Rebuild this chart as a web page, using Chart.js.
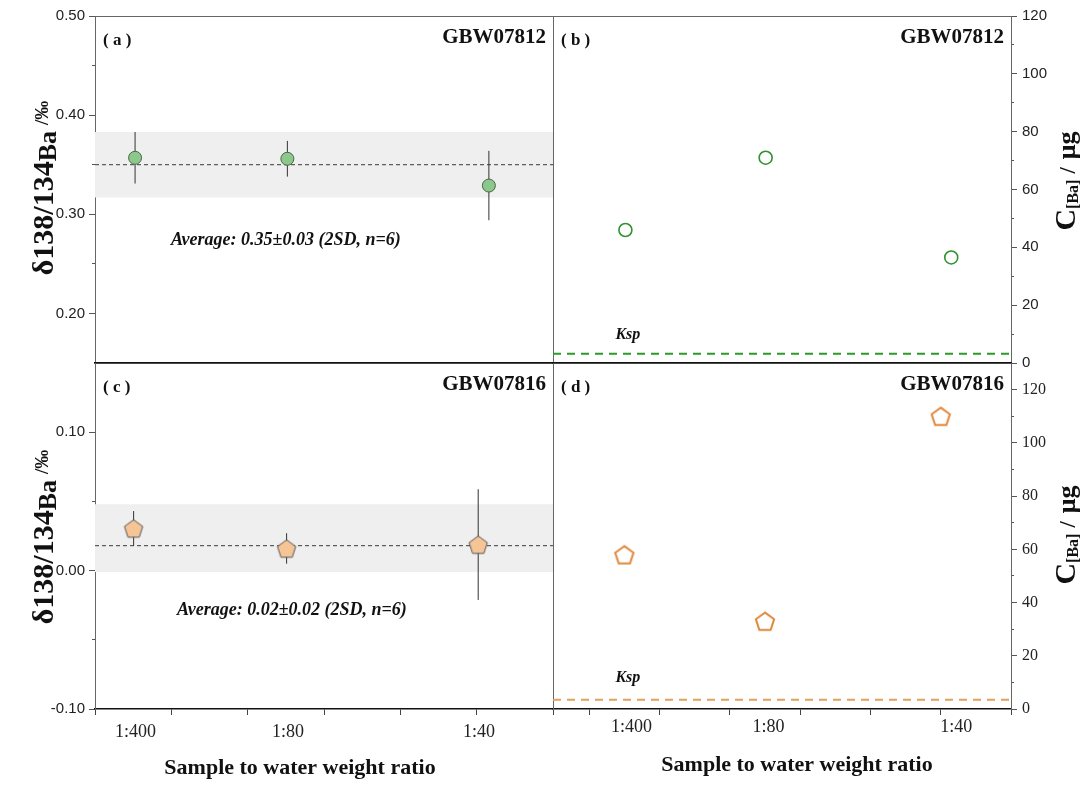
<!DOCTYPE html>
<html>
<head>
<meta charset="utf-8">
<script src="https://cdn.jsdelivr.net/npm/chart.js@4.4.0/dist/chart.umd.min.js"></script>
<style>
  html, body { margin: 0; padding: 0; background: #fff; }
  #wrap { position: relative; width: 1091px; height: 785px; }
  #wrap canvas { position: absolute; left: 0; top: 0; }
</style>
</head>
<body>
<div id="wrap">
  <canvas id="pa" width="1091" height="785"></canvas>
  <canvas id="pb" width="1091" height="785"></canvas>
  <canvas id="pc" width="1091" height="785"></canvas>
  <canvas id="pd" width="1091" height="785"></canvas>
</div>
<script>
// ---- data ----
const ratioLabels = ['1:400', '1:80', '1:40'];

// (a) GBW07812, delta 138/134 Ba
const xA = [0.525, 2.52, 5.16];
const deltaA = [0.357, 0.356, 0.329];
const errA = [0.026, 0.018, 0.035];
const meanA = 0.35;
const bandA = [0.317, 0.383];

// (b) GBW07812, C[Ba]
const xB = [0.515, 2.51, 5.15];
const concB = [46, 71, 36.5];
const kspB = 3.2;

// (c) GBW07816, delta 138/134 Ba
const xC = [0.506, 2.51, 5.02];
const deltaC = [0.0305, 0.016, 0.0188];
const errC = [0.0125, 0.011, 0.040];
const meanC = 0.018;
const bandC = [-0.001, 0.048];

// (d) GBW07816, C[Ba]
const xD = [0.5, 2.5, 5.0];
const concD = [58, 33, 110];
const kspD = 3.5;

// ticks
const xTicks = [0, 1, 2, 3, 4, 5, 6];
const xLabelPosC = [0.53, 2.53, 5.03];
const xLabelPosD = [0.6, 2.55, 5.22];
const yTicksA = [0.2, 0.3, 0.4, 0.5], yMinorA = [0.25, 0.35, 0.45];
const yTicksC = [-0.1, 0, 0.1], yMinorC = [-0.05, 0.05];
const yTicksB = [0, 20, 40, 60, 80, 100, 120], yMinorB = [10, 30, 50, 70, 90, 110];
const yTicksD = [0, 20, 40, 60, 80, 100, 120], yMinorD = [10, 30, 50, 70, 90, 110];

// ---- layout ----
const CW = 1091, CH = 785;
const L = 95, M = 553, R = 1011, T = 16, MID = 363, B = 709;
const SIDE_W = 45, LAB_H = 40;
const SERIF = '"Liberation Serif", "Times New Roman", serif';
const SANS = '"Liberation Sans", Arial, sans-serif';

function setTicks(vals) { return axis => { axis.ticks = vals.map(v => ({ value: v })); }; }
function fixW(w) { return axis => { axis.width = w; }; }
function fixH(h) { return axis => { axis.height = h; }; }

function pentagon(fill, stroke, lw) {
  const size = 22;
  const c = document.createElement('canvas');
  c.width = c.height = size;
  const g = c.getContext('2d');
  const r = 9.6;
  g.beginPath();
  for (let i = 0; i < 5; i++) {
    const a = -Math.PI / 2 + i * 2 * Math.PI / 5;
    const px = size / 2 + r * Math.cos(a), py = size / 2 + 1 + r * Math.sin(a);
    if (i === 0) g.moveTo(px, py); else g.lineTo(px, py);
  }
  g.closePath();
  if (fill) { g.fillStyle = fill; g.fill(); }
  g.lineWidth = lw; g.strokeStyle = stroke; g.stroke();
  return c;
}

// text made of pieces with different fonts (sub / superscript)
function rich(ctx, parts, x, y, angle) {
  ctx.save();
  ctx.translate(x, y);
  if (angle) ctx.rotate(angle);
  let total = 0;
  parts.forEach(p => { ctx.font = p.font; p.w = ctx.measureText(p.t).width; total += p.w + (p.gap || 0); });
  let cx = -total / 2;
  ctx.textAlign = 'left';
  ctx.textBaseline = 'alphabetic';
  parts.forEach(p => {
    ctx.font = p.font; ctx.fillStyle = '#111';
    ctx.fillText(p.t, cx, p.dy || 0);
    cx += p.w + (p.gap || 0);
  });
  ctx.restore();
}

function deltaTitle(ctx, cy) {
  rich(ctx, [
    { t: 'δ138/134', font: 'bold 30px ' + SERIF },
    { t: 'Ba', font: 'bold 26px ' + SERIF, dy: 3, gap: 6 },
    { t: '/‰', font: 'bold 19px ' + SERIF, dy: -5 }
  ], 53, cy, -Math.PI / 2);
}
function concTitle(ctx, cy) {
  rich(ctx, [
    { t: 'C', font: 'bold 30px ' + SERIF },
    { t: '[Ba]', font: 'bold 16px ' + SERIF, dy: 3, gap: 6 },
    { t: '/', font: 'bold 23px ' + SERIF, gap: 8 },
    { t: 'μg', font: 'bold 26px ' + SERIF }
  ], 1075, cy, -Math.PI / 2);
}

function makePanel(id, o) {
  const [al, at, ar, ab] = o.area;
  const left = o.yPos === 'left';
  const other = left ? 'right' : 'left';
  const yW = left ? al : SIDE_W;
  const labH = o.xLabelPos ? LAB_H : 0;
  const scales = {
    x: {
      type: 'linear', position: 'bottom', min: o.xMin, max: 6, afterFit: fixH(0), weight: -1,
      afterBuildTicks: setTicks(o.xTicks ? xTicks : []),
      ticks: { display: false },
      grid: { display: !!o.xTicks, drawOnChartArea: false, tickLength: 6, color: '#444', tickWidth: 1 },
      border: { color: '#111', width: 1.5 }
    },
    xTop: {
      type: 'linear', position: 'top', afterFit: fixH(0),
      ticks: { display: false }, grid: { display: false },
      border: { color: o.topColor || '#666', width: o.topWidth || 1 }
    },
    y: {
      type: 'linear', position: o.yPos, min: o.yMin, max: o.yMax, afterFit: fixW(yW),
      afterBuildTicks: setTicks(o.yMajor),
      ticks: { callback: o.yFmt, font: o.yFont, color: '#222', padding: o.yPad, autoSkip: false },
      grid: { drawOnChartArea: false, tickLength: 6, color: '#555' },
      border: { color: '#666', width: 1 }
    },
    yMinor: {
      type: 'linear', position: o.yPos, min: o.yMin, max: o.yMax, afterFit: fixW(0), weight: -1,
      afterBuildTicks: setTicks(o.yMinorTicks),
      ticks: { display: false },
      grid: { drawOnChartArea: false, tickLength: 3, color: '#555' },
      border: { display: false }
    },
    yOther: {
      type: 'linear', position: other, afterFit: fixW(0), weight: -1,
      ticks: { display: false }, grid: { display: false },
      border: { color: '#666', width: 1 }
    }
  };
  if (o.xLabelPos) {
    scales.xLab = {
      type: 'linear', position: 'bottom', min: o.xMin, max: 6, afterFit: fixH(LAB_H),
      afterBuildTicks: setTicks(o.xLabelPos),
      ticks: { callback: (v, i) => ratioLabels[i], font: { family: SERIF, size: 18 }, color: '#222', padding: o.xLabPad, autoSkip: false, maxRotation: 0 },
      grid: { display: false, drawTicks: false }, border: { display: false }
    };
  }

  const ds = [];
  if (o.band) ds.push({
    data: [{ x: o.xMin, y: o.band[1] }, { x: 6, y: o.band[1] }], showLine: true,
    fill: { value: o.band[0] }, backgroundColor: '#efefef', borderColor: 'rgba(0,0,0,0)',
    borderWidth: 0, pointRadius: 0, order: 5
  });
  if (o.mean != null) ds.push({
    data: [{ x: o.xMin, y: o.mean }, { x: 6, y: o.mean }], showLine: true,
    borderColor: '#3a3a3a', borderWidth: 1, borderDash: [4, 3], pointRadius: 0, order: 4
  });
  if (o.err) ds.push({
    data: o.xs.flatMap((x, i) => [{ x, y: o.ys[i] - o.err[i] }, { x, y: o.ys[i] + o.err[i] }, { x, y: null }]),
    showLine: true, spanGaps: false, borderColor: '#333', borderWidth: 1, pointRadius: 0, order: 3
  });
  if (o.ksp) ds.push({
    data: [{ x: o.xMin, y: o.ksp.v }, { x: 6, y: o.ksp.v }], showLine: true,
    borderColor: o.ksp.color, borderWidth: 2, borderDash: [8, 6], pointRadius: 0, order: 4
  });
  ds.push({
    data: o.xs.map((x, i) => ({ x, y: o.ys[i] })),
    pointStyle: o.pointStyle, pointRadius: o.radius,
    backgroundColor: o.fill, borderColor: o.stroke, borderWidth: o.sw, order: 0
  });

  return new Chart(document.getElementById(id), {
    type: 'scatter',
    data: { datasets: ds },
    options: {
      responsive: false, animation: false, devicePixelRatio: 1,
      layout: { padding: {
        left: left ? 0 : al,
        top: at,
        right: left ? CW - ar : CW - ar - SIDE_W,
        bottom: CH - ab - labH
      } },
      plugins: { legend: { display: false }, tooltip: { enabled: false } },
      scales
    },
    plugins: [{ id: 'notes', afterDraw(chart) { const ctx = chart.ctx; ctx.save(); o.notes(ctx, chart); ctx.restore(); } }]
  });
}

function panelLabels(ctx, tag, name, left, right, base) {
  ctx.fillStyle = '#111';
  ctx.textBaseline = 'alphabetic';
  ctx.font = 'bold 17px ' + SERIF; ctx.textAlign = 'left';
  ctx.fillText(tag, left + 8, base + 2);
  ctx.font = 'bold 21px ' + SERIF; ctx.textAlign = 'right';
  ctx.fillText(name, right - 7, base);
}
function noteAt(ctx, chart, text, xv, yv, size) {
  const px = chart.scales.x.getPixelForValue(xv), py = chart.scales.y.getPixelForValue(yv);
  ctx.fillStyle = '#111';
  ctx.font = 'italic bold ' + size + 'px ' + SERIF;
  ctx.textAlign = 'center'; ctx.textBaseline = 'middle';
  ctx.fillText(text, px, py);
}
function xTitle(ctx, cx, cy) {
  ctx.fillStyle = '#111';
  ctx.font = 'bold 22px ' + SERIF;
  ctx.textAlign = 'center'; ctx.textBaseline = 'middle';
  ctx.fillText('Sample to water weight ratio', cx, cy);
}

const fmt2 = v => v.toFixed(2);
const fmt0 = v => String(v);

makePanel('pa', {
  area: [L, T, M, MID], xMin: 0, xTicks: false, yPos: 'left',
  yMin: 0.15, yMax: 0.5, yMajor: yTicksA, yMinorTicks: yMinorA, yFmt: fmt2,
  yFont: { family: SANS, size: 15 }, yPad: 4,
  band: bandA, mean: meanA, err: errA, xs: xA, ys: deltaA,
  pointStyle: 'circle', radius: 6.5, fill: '#8cc88c', stroke: '#4a664a', sw: 1,
  notes(ctx, chart) {
    panelLabels(ctx, '( a )', 'GBW07812', L, M, 43);
    noteAt(ctx, chart, 'Average: 0.35±0.03 (2SD, n=6)', 2.5, 0.274, 18);
    deltaTitle(ctx, 188);
  }
});

makePanel('pb', {
  area: [M, T, R, MID], xMin: -0.515, xTicks: false, yPos: 'right',
  yMin: 0, yMax: 120, yMajor: yTicksB, yMinorTicks: yMinorB, yFmt: fmt0,
  yFont: { family: SANS, size: 15 }, yPad: 5,
  ksp: { v: kspB, color: '#2a9a2a' }, xs: xB, ys: concB,
  pointStyle: 'circle', radius: 6.5, fill: 'rgba(0,0,0,0)', stroke: '#2e922e', sw: 1.6,
  notes(ctx, chart) {
    panelLabels(ctx, '( b )', 'GBW07812', M, R, 43);
    noteAt(ctx, chart, 'Ksp', 0.55, 9.7, 16);
    concTitle(ctx, 181);
  }
});

makePanel('pc', {
  area: [L, MID, M, B], xMin: 0, xTicks: true, xLabelPos: xLabelPosC, xLabPad: 12, yPos: 'left',
  topColor: '#111', topWidth: 1.5,
  yMin: -0.1, yMax: 0.15, yMajor: yTicksC, yMinorTicks: yMinorC, yFmt: fmt2,
  yFont: { family: SANS, size: 15 }, yPad: 4,
  band: bandC, mean: meanC, err: errC, xs: xC, ys: deltaC,
  pointStyle: pentagon('#f6c596', '#555', 1), radius: 8,
  fill: '#f6c596', stroke: '#555', sw: 1,
  notes(ctx, chart) {
    panelLabels(ctx, '( c )', 'GBW07816', L, M, 390);
    noteAt(ctx, chart, 'Average: 0.02±0.02 (2SD, n=6)', 2.58, -0.029, 18);
    deltaTitle(ctx, 537);
    xTitle(ctx, 300, 768);
  }
});

makePanel('pd', {
  area: [M, MID, R, B], xMin: -0.515, xTicks: true, xLabelPos: xLabelPosD, xLabPad: 7, yPos: 'right',
  topColor: '#111', topWidth: 1.5,
  yMin: 0, yMax: 130, yMajor: yTicksD, yMinorTicks: yMinorD, yFmt: fmt0,
  yFont: { family: SERIF, size: 16 }, yPad: 5,
  ksp: { v: kspD, color: '#e3a05c' }, xs: xD, ys: concD,
  pointStyle: pentagon(null, '#e0883a', 2), radius: 8,
  fill: 'rgba(0,0,0,0)', stroke: '#e0883a', sw: 2,
  notes(ctx, chart) {
    panelLabels(ctx, '( d )', 'GBW07816', M, R, 390);
    noteAt(ctx, chart, 'Ksp', 0.55, 11.6, 16);
    concTitle(ctx, 535);
    xTitle(ctx, 797, 765);
  }
});
</script>
</body>
</html>
